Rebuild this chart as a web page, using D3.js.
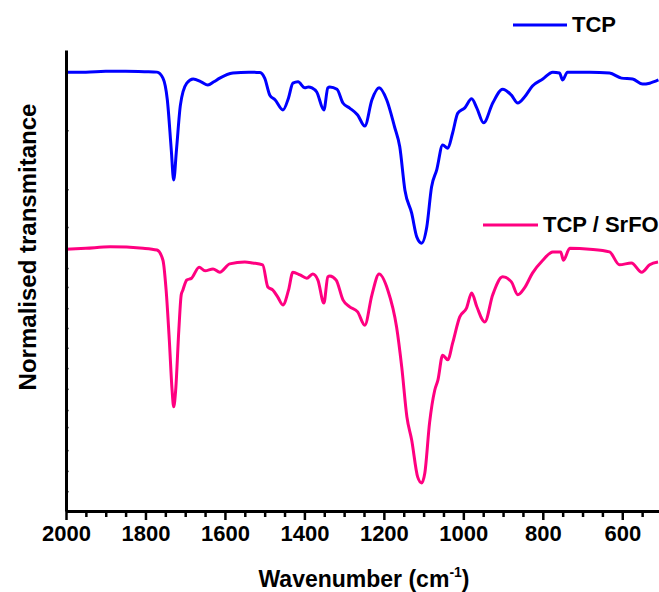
<!DOCTYPE html>
<html>
<head>
<meta charset="utf-8">
<script src="https://cdn.jsdelivr.net/npm/d3@7"></script>
<style>
  html, body { margin: 0; padding: 0; background: #fff; }
  svg { display: block; font-family: Arial, "Liberation Sans", sans-serif; font-weight: bold; }
</style>
</head>
<body>
<svg id="chart" width="659" height="592"></svg>
<script>
/* ---- data ------------------------------------------------------- */
const seriesNames  = ["TCP", "TCP / SrFO"];
const seriesColors = ["#0000ff", "#ff0080"];

const tcpWavenumber = [2000,1950,1900,1850,1800,1771,1756,1745,1735,1729,1722,1712,1696,1680,1660,1643,1628,1613,1580,1540,1512,1500,1487,1474,1454,1440,1429,1416,1399,1390,1381,1369,1351,1341,1336,1318,1303,1286,1266,1248,1230,1212,1193,1173,1160,1147,1130,1117,1105,1092,1080,1067,1052,1039,1027,1014,997,979,966,949,926,901,879,863,846,826,800,775,758,750,738,682,632,602,574,549,531,509];
const tcpValues     = [0.952,0.952,0.954,0.954,0.953,0.952,0.939,0.892,0.783,0.718,0.783,0.881,0.928,0.937,0.931,0.924,0.931,0.939,0.950,0.952,0.951,0.939,0.902,0.892,0.870,0.896,0.928,0.931,0.918,0.920,0.918,0.909,0.870,0.918,0.920,0.915,0.885,0.874,0.859,0.835,0.892,0.918,0.892,0.833,0.790,0.696,0.646,0.594,0.581,0.616,0.703,0.740,0.794,0.787,0.820,0.863,0.874,0.894,0.874,0.842,0.885,0.915,0.902,0.885,0.898,0.922,0.937,0.952,0.950,0.935,0.952,0.952,0.950,0.939,0.937,0.926,0.928,0.935];

const srfoWavenumber = [2000,1950,1889,1806,1771,1756,1748,1740,1733,1729,1724,1716,1710,1706,1696,1684,1665,1650,1630,1613,1588,1550,1530,1505,1492,1479,1467,1454,1440,1429,1411,1394,1379,1366,1351,1341,1336,1320,1303,1286,1266,1248,1230,1212,1190,1168,1155,1142,1130,1115,1105,1097,1085,1072,1064,1052,1039,1027,1009,992,979,966,946,926,901,879,863,846,826,800,775,755,748,732,682,632,607,577,551,531,510];
const srfoValues     = [0.568,0.570,0.573,0.570,0.566,0.544,0.479,0.371,0.262,0.226,0.262,0.393,0.469,0.479,0.501,0.505,0.529,0.521,0.525,0.518,0.536,0.540,0.538,0.534,0.486,0.479,0.464,0.447,0.479,0.518,0.512,0.505,0.514,0.501,0.451,0.508,0.510,0.501,0.458,0.443,0.432,0.403,0.469,0.514,0.479,0.399,0.312,0.204,0.154,0.074,0.061,0.082,0.191,0.262,0.284,0.338,0.328,0.364,0.421,0.440,0.473,0.443,0.410,0.469,0.508,0.497,0.469,0.484,0.516,0.544,0.562,0.562,0.544,0.570,0.568,0.562,0.534,0.538,0.518,0.534,0.540];

const xMajorTicks = [2000,1800,1600,1400,1200,1000,800,600];
const xMinorTicks = d3.range(1950, 500, -50).filter(v => v % 200 !== 0);
const yMinorTicks = [0.043,0.087,0.132,0.182,0.219,0.265,0.310,0.354,0.397,0.440,0.486,0.527,0.616,0.698,0.826];

/* ---- layout ----------------------------------------------------- */
const svg = d3.select("#chart");
const plot = { left: 66, right: 662, top: 50, bottom: 511 };

const x = d3.scaleLinear([2000, 500], [plot.left, plot.right]);
const y = d3.scaleLinear([0, 1], [plot.bottom, plot.top]);

/* ---- spectra ---------------------------------------------------- */
const series = [
  tcpWavenumber.map((w, i) => ({ w, v: tcpValues[i] })),
  srfoWavenumber.map((w, i) => ({ w, v: srfoValues[i] }))
];

const line = d3.line()
  .x(d => x(d.w))
  .y(d => y(d.v))
  .curve(d3.curveMonotoneX);

svg.append("g")
  .selectAll("path")
  .data(series)
  .join("path")
    .attr("fill", "none")
    .attr("stroke", (d, i) => seriesColors[i])
    .attr("stroke-width", 3)
    .attr("stroke-linejoin", "round")
    .attr("d", line);

/* ---- axes ------------------------------------------------------- */
// minor x ticks
svg.append("g")
  .attr("transform", `translate(0,${plot.bottom})`)
  .call(d3.axisBottom(x).tickValues(xMinorTicks).tickSize(6).tickSizeOuter(0).tickFormat(""))
  .call(g => g.select(".domain").remove())
  .call(g => g.selectAll("line").attr("stroke-width", 2.5));

// major x ticks + labels
svg.append("g")
  .attr("transform", `translate(0,${plot.bottom})`)
  .call(d3.axisBottom(x).tickValues(xMajorTicks).tickSize(9).tickSizeOuter(0).tickPadding(5)
    .tickFormat(d3.format("d")))
  .call(g => g.select(".domain").attr("stroke-width", 3))
  .call(g => g.selectAll("line").attr("stroke-width", 2.5))
  .call(g => g.selectAll("text")
    .attr("fill", "#000")
    .attr("font-size", 22)
    .attr("font-weight", "bold")
    .attr("font-family", "Arial, 'Liberation Sans', sans-serif"));

// y axis: tiny inward ticks, no labels
svg.append("g")
  .attr("transform", `translate(${plot.left},0)`)
  .call(d3.axisRight(y).tickValues(yMinorTicks).tickSize(2.5).tickSizeOuter(0).tickFormat(""))
  .call(g => g.select(".domain").attr("stroke-width", 3))
  .call(g => g.selectAll("line").attr("stroke-width", 1.5));

/* ---- axis titles ------------------------------------------------ */
const xTitle = svg.append("text")
  .attr("x", 364)
  .attr("y", 587)
  .attr("text-anchor", "middle")
  .attr("font-size", 23);
xTitle.append("tspan").text("Wavenumber (cm");
xTitle.append("tspan").attr("font-size", 14).attr("dy", -10).text("-1");
xTitle.append("tspan").attr("dy", 10).text(")");

svg.append("text")
  .attr("transform", "translate(36,247) rotate(-90)")
  .attr("text-anchor", "middle")
  .attr("font-size", 24)
  .text("Normalised transmitance");

/* ---- legends ---------------------------------------------------- */
const legendPos = [
  { x1: 513, x2: 567, y: 25, tx: 572 },
  { x1: 483, x2: 538, y: 225, tx: 543 }
];

const legend = svg.append("g")
  .selectAll("g")
  .data(seriesNames)
  .join("g");

legend.append("line")
  .attr("x1", (d, i) => legendPos[i].x1)
  .attr("x2", (d, i) => legendPos[i].x2)
  .attr("y1", (d, i) => legendPos[i].y)
  .attr("y2", (d, i) => legendPos[i].y)
  .attr("stroke", (d, i) => seriesColors[i])
  .attr("stroke-width", 3);

legend.append("text")
  .attr("x", (d, i) => legendPos[i].tx)
  .attr("y", (d, i) => legendPos[i].y + 7)
  .attr("font-size", 22)
  .text(d => d);
</script>
</body>
</html>
